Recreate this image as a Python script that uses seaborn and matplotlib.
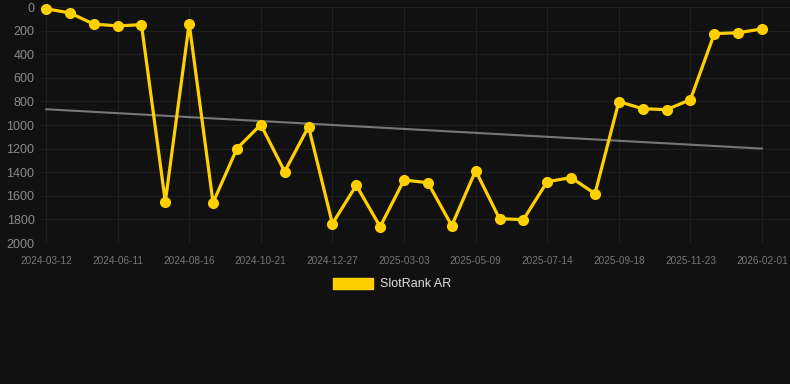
import numpy as np
import pandas as pd
import matplotlib
matplotlib.use("Agg")
import matplotlib.pyplot as plt
import seaborn as sns
from matplotlib.patches import Patch

# ---- data ----
tick_labels = ["2024-03-12", "2024-06-11", "2024-08-16", "2024-10-21", "2024-12-27",
               "2025-03-03", "2025-05-09", "2025-07-14", "2025-09-18", "2025-11-23",
               "2026-02-01"]
rank = [15, 50, 145, 160, 150, 1650, 140, 1658, 1200, 997,
        1395, 1014, 1836, 1511, 1862, 1466, 1489, 1853, 1387, 1794,
        1802, 1480, 1446, 1582, 802, 862, 870, 785, 226, 218, 186]
series_name = "SlotRank AR"

idx = np.arange(len(rank))
df = pd.DataFrame({"i": idx, "rank": rank})

BG = "#111111"
GOLD = "#FFD000"
GRID = "#1f1f1f"
sns.set_style("dark", {"axes.facecolor": BG, "figure.facecolor": BG,
                       "grid.color": GRID, "axes.edgecolor": BG})
plt.rcParams["font.family"] = ["Liberation Sans", "DejaVu Sans"]

fig = plt.figure(figsize=(7.9, 3.84), dpi=100)
ax = fig.add_axes([40 / 790, (384 - 243) / 384, 750 / 790, 236 / 384])
ax.set_facecolor(BG)

# trend line (least squares fit)
sns.regplot(data=df, x="i", y="rank", scatter=False, ci=None, ax=ax,
            line_kws={"color": "#777777", "lw": 1.5, "zorder": 2}, truncate=True)

sns.lineplot(data=df, x="i", y="rank", ax=ax, color=GOLD, lw=2.3,
             marker="o", markersize=8, markeredgewidth=0, zorder=3,
             clip_on=False)
for l in ax.lines[1:]:
    l.set_solid_joinstyle("miter")

ax.set_xlim(-0.25, 31.17)
ax.set_ylim(2000, 0)
ax.set_yticks(np.arange(0, 2001, 200))
ax.set_xticks(idx[::3])
ax.set_xticklabels(tick_labels)
ax.grid(True, color=GRID, lw=0.8)
ax.tick_params(axis="y", colors="#8a8a8a", labelsize=9, length=0, pad=4)
ax.tick_params(axis="x", colors="#777777", labelsize=7.2, length=0, pad=9)
ax.set_xlabel("")
ax.set_ylabel("")
for s in ax.spines.values():
    s.set_visible(False)

handle = Patch(facecolor=GOLD, edgecolor=GOLD)
fig.legend([handle], [series_name], loc="center", bbox_to_anchor=(392 / 790, 1 - 284 / 384),
           frameon=False, labelcolor="#dddddd", fontsize=9,
           handlelength=3.2, handleheight=1.0, handletextpad=0.5)

fig.savefig("out.png", dpi=100, facecolor=BG)
